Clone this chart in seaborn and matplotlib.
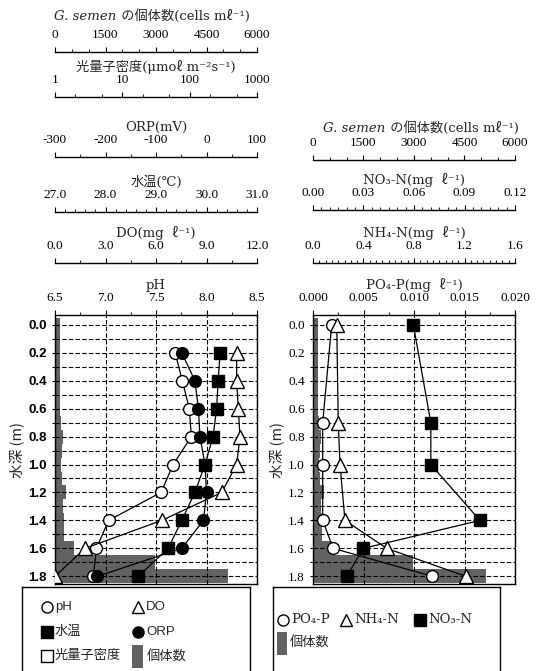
import numpy as np
import matplotlib
matplotlib.use('Agg')
import matplotlib.pyplot as plt
import seaborn as sns
from matplotlib.patches import Rectangle
from matplotlib.offsetbox import TextArea, HPacker, AnchoredOffsetbox
from matplotlib.ticker import (MultipleLocator, FixedLocator, LogLocator,
                               NullFormatter, FormatStrFormatter, FixedFormatter)

sns.set_theme(style='white')
SERIF = ['Liberation Serif', 'DejaVu Serif', 'Noto Sans CJK JP']
LABF = ['DejaVu Serif', 'Noto Sans CJK JP']
plt.rcParams['font.family'] = SERIF
plt.rcParams['axes.unicode_minus'] = False

# ---------------- data ----------------
depth_left = [0.2, 0.4, 0.6, 0.8, 1.0, 1.2, 1.4, 1.6, 1.8]
ph = [7.69, 7.76, 7.83, 7.85, 7.67, 7.55, 7.03, 6.91, 6.88]
orp = [-49, -23, -16, -13, -3, 0, -6, -49, -216]
temp = [30.27, 30.23, 30.20, 30.13, 29.97, 29.77, 29.51, 29.24, 28.65]
do = [10.79, 10.79, 10.89, 10.99, 10.79, 9.90, 6.34, 1.78, 0.0]

depth_cells = [0.0, 0.1, 0.2, 0.3, 0.4, 0.5, 0.6, 0.7, 0.8, 0.9,
               1.0, 1.1, 1.2, 1.3, 1.4, 1.5, 1.6, 1.7, 1.8]
cells = [160, 160, 160, 160, 160, 160, 160, 170, 230, 200,
         190, 200, 320, 230, 260, 280, 560, 2960, 5150]

depth_right = [0.0, 0.7, 1.0, 1.4, 1.6, 1.8]
po4 = [0.00185, 0.00096, 0.00096, 0.00096, 0.0020, 0.0118]
nh4 = [0.188, 0.200, 0.214, 0.253, 0.584, 1.21]
no3 = [0.0596, 0.070, 0.070, 0.0992, 0.0299, 0.020]

depth_ticks = [0.0, 0.2, 0.4, 0.6, 0.8, 1.0, 1.2, 1.4, 1.6, 1.8]

# ---------------- figure ----------------
W, H = 538, 671
fig = plt.figure(figsize=(W / 100, H / 100), dpi=100)
fig.patch.set_facecolor('white')

BAR_COLOR = '#626262'
TICKFS = 9.5
LABFS = 9.5


def px_rect(x0, x1, ytop, ybot):
    return [x0 / W, 1 - ybot / H, (x1 - x0) / W, (ybot - ytop) / H]


def style_top(axis_ax, lim, major, minor_step=None, fmt=None, log=False,
              labels=None, offset_px=0, label='', pad=4.5, labelpad=2.0):
    axis_ax.set_xlim(lim)
    if log:
        axis_ax.set_xscale('log')
        axis_ax.set_xlim(lim)
        axis_ax.xaxis.set_major_locator(FixedLocator(major))
        axis_ax.xaxis.set_minor_locator(LogLocator(base=10, subs=(2, 5)))
        axis_ax.xaxis.set_minor_formatter(NullFormatter())
    else:
        axis_ax.xaxis.set_major_locator(FixedLocator(major))
        if minor_step:
            axis_ax.xaxis.set_minor_locator(MultipleLocator(minor_step))
    if labels is not None:
        axis_ax.xaxis.set_major_formatter(FixedFormatter(labels))
    elif fmt is not None:
        axis_ax.xaxis.set_major_formatter(FormatStrFormatter(fmt))
    axis_ax.xaxis.set_ticks_position('top')
    axis_ax.xaxis.set_label_position('top')
    axis_ax.tick_params(axis='x', which='major', direction='out', length=3.5,
                        width=0.8, pad=pad, labelsize=TICKFS, colors='black',
                        top=True, bottom=False, labeltop=True, labelbottom=False)
    axis_ax.tick_params(axis='x', which='minor', direction='out', length=2.5,
                        width=0.8, top=True, bottom=False)
    axis_ax.spines['top'].set_visible(True)
    axis_ax.spines['top'].set_color('black')
    axis_ax.spines['top'].set_linewidth(1.0)
    if offset_px:
        axis_ax.spines['top'].set_position(('outward', offset_px * 0.72))
    axis_ax.set_xlabel(label, fontsize=LABFS, labelpad=labelpad, family=LABF)


def make_panel(x0, x1):
    ax = fig.add_axes(px_rect(x0, x1, 315, 584))
    ax.patch.set_visible(False)
    ax.set_zorder(1)
    return ax


def finish_main(ax, xlim, fmt, label, yfamily, yweight):
    style_top(ax, xlim, list(np.linspace(xlim[0], xlim[1], 5)),
              (xlim[1] - xlim[0]) / 8, fmt=fmt, label=label)
    for s in ax.spines.values():
        s.set_visible(True)
        s.set_color('black')
        s.set_linewidth(1.0)
    ax.spines['top'].set_position(('outward', 0))
    ax.set_ylim(1.855, -0.07)
    ax.yaxis.set_major_locator(FixedLocator(depth_ticks))
    ax.yaxis.set_minor_locator(MultipleLocator(0.1))
    ax.yaxis.set_major_formatter(FormatStrFormatter('%.1f'))
    ax.tick_params(axis='y', which='both', direction='out', length=2.5,
                   width=0.8, left=True, right=False, colors='black')
    for t in ax.get_yticklabels():
        t.set_family(yfamily)
        t.set_fontsize(9.5)
        t.set_weight(yweight)
    ax.grid(False)
    ax.grid(True, which='major', axis='x', color='black', linestyle=(0, (4, 2)),
            linewidth=0.8)
    ax.grid(True, which='both', axis='y', color='black', linestyle=(0, (4, 2)),
            linewidth=0.8)
    ax.set_ylabel('水深 (m)', fontsize=10.5, labelpad=2,
                  family=['Noto Sans CJK JP', 'Liberation Sans'])


def draw_series(ax, x, y, marker, mfc, ms):
    sns.lineplot(x=x, y=y, ax=ax, orient='y', sort=False, estimator=None,
                 color='black', linewidth=0.9, marker=marker, markersize=ms,
                 markerfacecolor=mfc, markeredgecolor='black',
                 markeredgewidth=1.0, legend=False)


def draw_cells(base):
    bax = base.twiny()
    bax.set_zorder(0.5)
    sns.barplot(x=cells, y=depth_cells, ax=bax, orient='y', native_scale=True,
                width=1.0, color=BAR_COLOR, saturation=1, linewidth=0,
                errorbar=None)
    return bax


def gsemen_label(xc, yc):
    t1 = TextArea('G. semen', textprops=dict(style='italic', fontsize=LABFS,
                                             family=LABF))
    t2 = TextArea(' の個体数(cells mℓ⁻¹)', textprops=dict(fontsize=LABFS,
                                                       family=LABF))
    box = HPacker(children=[t1, t2], align='baseline', pad=0, sep=0)
    ab = AnchoredOffsetbox(loc='center', child=box, pad=0, borderpad=0,
                           frameon=False, bbox_to_anchor=(xc / W, 1 - yc / H),
                           bbox_transform=fig.transFigure)
    fig.add_artist(ab)


# ---------------- left panel ----------------
axL = make_panel(55, 257)
bL = draw_cells(axL)
style_top(bL, (0, 6000), [0, 1500, 3000, 4500, 6000], 500, fmt='%d',
          offset_px=263, label='')
gsemen_label(152, 16)

lightL = axL.twiny()
lightL.set_zorder(2)
style_top(lightL, (1, 1000), [1, 10, 100, 1000], log=True,
          labels=['1', '10', '100', '1000'], offset_px=218,
          label='光量子密度(μmoℓ m⁻²s⁻¹)')

orpL = axL.twiny()
orpL.set_zorder(2)
draw_series(orpL, orp, depth_left, 'o', 'black', 8.5)
style_top(orpL, (-300, 100), [-300, -200, -100, 0, 100], 50, fmt='%d',
          offset_px=158, label='ORP(mV)')

tempL = axL.twiny()
tempL.set_zorder(2)
draw_series(tempL, temp, depth_left, 's', 'black', 8)
style_top(tempL, (27.0, 31.0), [27, 28, 29, 30, 31], 0.2, fmt='%.1f',
          offset_px=103, label='水温(℃)')

doL = axL.twiny()
doL.set_zorder(2)
draw_series(doL, do, depth_left, '^', 'white', 9.5)
style_top(doL, (0, 12), [0, 3, 6, 9, 12], 1.5, fmt='%.1f',
          offset_px=52, label='DO(mg  ℓ⁻¹)')

draw_series(axL, ph, depth_left, 'o', 'white', 8.5)
finish_main(axL, (6.5, 8.5), '%.1f', 'pH', 'Liberation Sans', 'bold')

# ---------------- right panel ----------------
axR = make_panel(313, 515)
bR = draw_cells(axR)
style_top(bR, (0, 6000), [0, 1500, 3000, 4500, 6000], 500, fmt='%d',
          offset_px=155, label='')
gsemen_label(421, 128)

no3R = axR.twiny()
no3R.set_zorder(2)
draw_series(no3R, no3, depth_right, 's', 'black', 8)
style_top(no3R, (0, 0.12), [0, 0.03, 0.06, 0.09, 0.12], 0.005, fmt='%.2f',
          offset_px=105, label='NO₃-N(mg  ℓ⁻¹)')

nh4R = axR.twiny()
nh4R.set_zorder(2)
draw_series(nh4R, nh4, depth_right, '^', 'white', 9.5)
style_top(nh4R, (0, 1.6), [0, 0.4, 0.8, 1.2, 1.6], 0.05, fmt='%.1f',
          offset_px=52, label='NH₄-N(mg  ℓ⁻¹)')

draw_series(axR, po4, depth_right, 'o', 'white', 8.5)
finish_main(axR, (0, 0.02), '%.3f', 'PO₄-P(mg  ℓ⁻¹)', 'Liberation Serif', 'normal')

for a in [bL, lightL, orpL, tempL, doL, bR, no3R, nh4R]:
    a.yaxis.set_visible(False)
    for s in ['left', 'right', 'bottom']:
        a.spines[s].set_visible(False)
    a.grid(False)


# ---------------- legends ----------------
def legend_box(x0, x1, top):
    lax = fig.add_axes([x0 / W, -0.05, (x1 - x0) / W, (1 - top / H) + 0.05])
    lax.set_xlim(x0, x1)
    lax.set_ylim(H * 1.05, top)
    lax.set_xticks([])
    lax.set_yticks([])
    lax.grid(False)
    for s in lax.spines.values():
        s.set_visible(True)
        s.set_color('black')
        s.set_linewidth(1.0)
    return lax


def leg_item(lax, x, y, marker, mfc, text, family, ms=8):
    lax.plot([x], [y], marker=marker, markersize=ms, markerfacecolor=mfc,
             markeredgecolor='black', markeredgewidth=1.0, linestyle='none')
    lax.text(x + 8, y, text, va='center', ha='left', fontsize=9.5,
             family=family)


sansJ = ['Liberation Sans', 'DejaVu Sans', 'Noto Sans CJK JP']

lL = legend_box(22, 250, 587)
leg_item(lL, 47, 607, 'o', 'white', 'pH', sansJ)
leg_item(lL, 138, 607, '^', 'white', 'DO', sansJ, ms=9)
leg_item(lL, 47, 632, 's', 'black', '水温', sansJ)
leg_item(lL, 138, 632, 'o', 'black', 'ORP', sansJ)
leg_item(lL, 47, 656, 's', 'white', '光量子密度', sansJ)
lL.add_patch(Rectangle((132, 645), 11, 23, facecolor=BAR_COLOR, edgecolor='none'))
lL.text(147, 656, '個体数', va='center', ha='left', fontsize=9.5, family=sansJ)

lR = legend_box(273, 500, 587)
leg_item(lR, 283, 620, 'o', 'white', 'PO₄-P', LABF)
leg_item(lR, 346, 620, '^', 'white', 'NH₄-N', LABF, ms=9)
leg_item(lR, 420, 620, 's', 'black', 'NO₃-N', LABF)
lR.add_patch(Rectangle((277, 632), 10, 23, facecolor=BAR_COLOR, edgecolor='none'))
lR.text(290, 642, '個体数', va='center', ha='left', fontsize=9.5, family=LABF)

fig.savefig('out.png', dpi=100, facecolor='white')
